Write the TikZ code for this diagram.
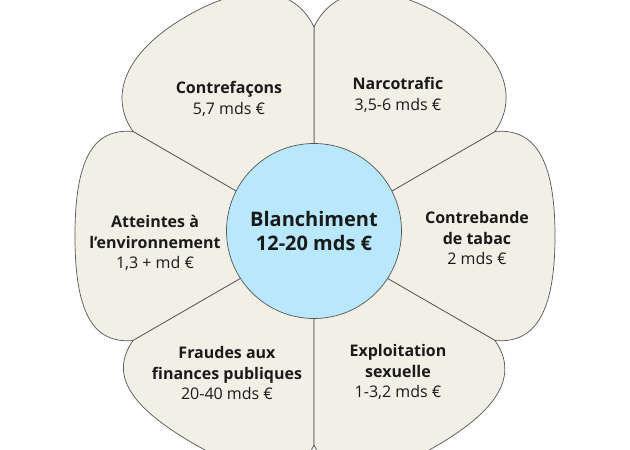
\documentclass[tikz,border=0pt]{standalone}
\usepackage{fontspec}
\setmainfont{Open Sans}
\definecolor{colorPetal}{HTML}{F2F0E6}
\definecolor{colorHeart}{HTML}{B9E8FD}
\definecolor{colorEdge}{HTML}{555555}
\definecolor{colorText}{HTML}{1A1A1A}
% #1 = axis angle, #2 = outer radius (pt)
\newcommand{\petal}[2]{\draw[petal,rotate=#1] (0pt,0pt) -- (30:209pt)
   .. controls (222pt,108pt) and (#2pt,75pt) .. (#2pt,0pt)
   .. controls (#2pt,-75pt) and (222pt,-108pt) .. (-30:209pt) -- cycle;}
\tikzset{
   petal/.style={fill=colorPetal,draw=colorEdge,line width=0.7pt},
   heart/.style={circle,fill=colorHeart,draw=colorEdge,line width=0.7pt,minimum size=175pt,inner sep=0pt,
      align=center,text=colorText,font=\fontsize{20}{25}\selectfont\bfseries},
   lab/.style={align=center,text=colorText,font=\fontsize{16}{20.5}\selectfont},
}
\begin{document}
\begin{tikzpicture}
        \path[fill=white,use as bounding box] (-314pt,-214pt) rectangle (316pt,236pt);

        \petal{0}{241}
        \petal{60}{255}
        \petal{120}{254}
        \petal{180}{239}
        \petal{240}{240}
        \petal{300}{243}

        \node[heart] (blanch) at (0pt,5pt) {Blanchiment\\12-20 mds €};

        \node[lab] (contref) at (-85pt,137pt) {\textbf{Contrefaçons}\\5,7 mds €};
        \node[lab] (narco)   at (84pt,141pt)  {\textbf{Narcotrafic}\\3,5-6 mds €};
        \node[lab] (envir)   at (-159pt,-7pt) {\textbf{Atteintes à}\\\textbf{l’environnement}\\1,3 + md €};
        \node[lab] (tabac)   at (163pt,-2pt)  {\textbf{Contrebande}\\\textbf{de tabac}\\2 mds €};
        \node[lab] (fraude)  at (-87pt,-137pt) {\textbf{Fraudes aux}\\\textbf{finances publiques}\\20-40 mds €};
        \node[lab] (exploit) at (84pt,-136pt) {\textbf{Exploitation}\\\textbf{sexuelle}\\1-3,2 mds €};
\end{tikzpicture}
\end{document}
